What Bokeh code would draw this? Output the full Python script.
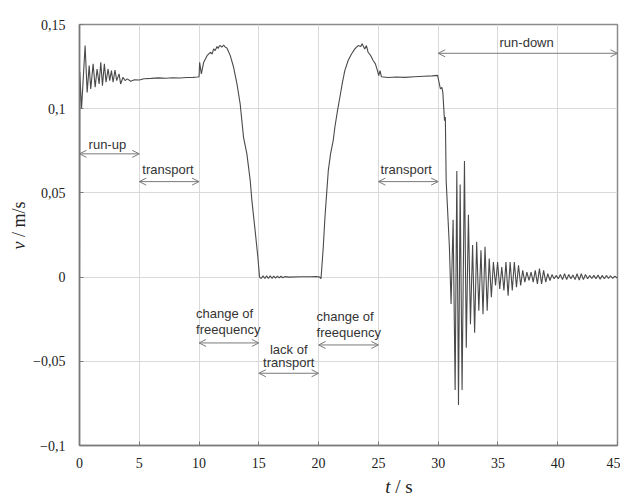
import math
from bokeh.plotting import figure
from bokeh.models import Arrow, OpenHead, Label, FixedTicker, Range1d
from bokeh.layouts import row, column
from bokeh.core.properties import value
from bokeh.embed import file_html
from bokeh.resources import INLINE

# ---- data (t in s, v in m/s) ----
t_runup = [0.0, 0.02, 0.17, 0.47, 0.64, 0.81, 0.94, 1.14, 1.31, 1.47, 1.64, 1.78, 1.92,
           2.08, 2.22, 2.39, 2.53, 2.67, 2.81, 2.97, 3.11, 3.31, 3.44, 3.64, 3.81, 4.0, 4.28]
v_runup = [0.0, 0.122, 0.100, 0.1375, 0.1097, 0.1256, 0.1117, 0.1266, 0.1127, 0.1236, 0.1147,
           0.1276, 0.1137, 0.1266, 0.1157, 0.1236, 0.1167, 0.1226, 0.1157, 0.1230, 0.1167,
           0.1207, 0.1147, 0.1187, 0.1167, 0.1177, 0.1163]

t_transport1 = [4.6, 5.0, 5.4, 6.0, 6.6, 7.2, 7.8, 8.4, 9.0, 9.5, 9.85]
v_transport1 = [0.1172, 0.1170, 0.1178, 0.1180, 0.1183, 0.1181, 0.1184, 0.1182, 0.1185,
                0.1186, 0.1188]

t_hump1 = [10.0, 10.05, 10.19, 10.39, 10.67, 10.94, 11.1, 11.22, 11.35, 11.5, 11.6, 11.7,
           11.78, 11.9, 12.06, 12.2, 12.33, 12.61, 12.89, 13.17, 13.44, 13.58, 13.72, 14.0,
           14.28, 14.42, 14.69, 14.92, 15.06]
v_hump1 = [0.1190, 0.1276, 0.1207, 0.1276, 0.1315, 0.1335, 0.1325, 0.1355, 0.1345, 0.1369,
           0.1358, 0.1372, 0.1375, 0.1366, 0.1378, 0.1365, 0.1361, 0.1315, 0.1246, 0.1147,
           0.1028, 0.0929, 0.0830, 0.0732, 0.0573, 0.0454, 0.0276, 0.0118, 0.0]

t_idle = [15.2, 15.35, 15.5, 15.65, 15.8, 15.95, 16.1, 16.25, 16.4, 16.55, 16.7, 16.85,
          17.0, 17.2, 17.5, 18.5, 19.3, 19.8, 20.1]
v_idle = [-0.0008, 0.0007, -0.0008, 0.0007, -0.0008, 0.0007, -0.0007, 0.0006, -0.0006,
          0.0006, -0.0005, 0.0005, -0.0004, 0.0003, 0.0, 0.0002, 0.0002, 0.0004, 0.0]

t_hump2 = [20.2, 20.39, 20.53, 20.67, 20.81, 21.0, 21.22, 21.36, 21.58, 21.78, 21.97, 22.19,
           22.47, 22.75, 23.03, 23.31, 23.53, 23.64, 23.86, 24.0, 24.14, 24.36, 24.56, 24.75,
           24.92, 25.03, 25.14, 25.25]
v_hump2 = [-0.001, 0.0177, 0.0355, 0.0494, 0.0632, 0.0732, 0.0811, 0.0890, 0.0989, 0.1068,
           0.1147, 0.1226, 0.1286, 0.1325, 0.1355, 0.1375, 0.1369, 0.1385, 0.1355, 0.1375,
           0.1335, 0.1315, 0.1286, 0.1266, 0.1226, 0.1196, 0.1226, 0.1190]

t_transport2 = [25.8, 26.5, 27.2, 28.0, 28.8, 29.5, 29.95]
v_transport2 = [0.1185, 0.1188, 0.1186, 0.1190, 0.1193, 0.1195, 0.1198]

t_rundown = [30.19, 30.31, 30.39, 30.53, 30.6, 30.67, 30.94, 31.08, 31.25, 31.42, 31.56,
             31.70, 31.84, 32.00, 32.20, 32.35, 32.53, 32.70, 32.88, 33.05, 33.22, 33.40,
             33.58, 33.75, 33.92, 34.10, 34.27, 34.45, 34.62, 34.80, 34.97, 35.15, 35.32,
             35.50, 35.67, 35.85, 36.02, 36.20, 36.37, 36.55, 36.72, 36.90, 37.07, 37.25,
             37.42, 37.60, 37.77, 37.95, 38.12, 38.30, 38.47, 38.65, 38.82, 39.00, 39.17,
             39.35, 39.52, 39.70, 39.87, 40.05, 40.22, 40.40, 40.57, 40.75, 40.92, 41.10,
             41.27, 41.45, 41.62, 41.80, 41.97, 42.15, 42.32, 42.50, 42.67, 42.85, 43.02,
             43.20, 43.37, 43.55, 43.72, 43.90, 44.07, 44.25, 44.42, 44.60, 44.77, 44.95, 45.0]
v_rundown = [0.1117, 0.1127, 0.1097, 0.0929, 0.0950, 0.0573, 0.0177, -0.016, 0.034, -0.067,
             0.063, -0.076, 0.055, -0.067, 0.069, -0.042, 0.037, -0.028, 0.019, -0.033,
             0.021, -0.020, 0.016, -0.022, 0.018, -0.020, 0.011, -0.012, 0.009, -0.005,
             0.009, -0.007, 0.006, -0.008, 0.009, -0.011, 0.009, -0.008, 0.009, -0.006,
             0.007, -0.005, 0.004, -0.003, 0.003, -0.002, 0.003, -0.003, 0.004, -0.004,
             0.005, -0.004, 0.004, -0.003, 0.002, -0.002, 0.0015, -0.001, 0.001, -0.001,
             0.0015, -0.0015, 0.002, -0.0015, 0.0015, -0.001, 0.0012, -0.0015, 0.002,
             -0.0018, 0.002, -0.0015, 0.0015, -0.001, 0.001, -0.0008, 0.001, -0.001, 0.0012,
             -0.0012, 0.001, -0.001, 0.001, -0.0008, 0.0008, -0.0008, 0.0006, -0.0004, 0.0]

x_ticks = [0, 5, 10, 15, 20, 25, 30, 35, 40, 45]
y_ticks = [-0.1, -0.05, 0, 0.05, 0.1, 0.15]
y_tick_labels = ["\u22120,1", "\u22120,05", "0", "0,05", "0,1", "0,15"]

t_all = t_runup + t_transport1 + t_hump1 + t_idle + t_hump2 + t_transport2 + t_rundown
v_all = v_runup + v_transport1 + v_hump1 + v_idle + v_hump2 + v_transport2 + v_rundown

YLAB_W = 30
MAIN_W = 620 - YLAB_W
MAIN_H = 475
XLAB_H = 497 - MAIN_H

# ---- main figure ----
p = figure(width=MAIN_W, height=MAIN_H, output_backend="svg", toolbar_location=None,
           x_range=Range1d(0, 45), y_range=Range1d(-0.1, 0.15),
           min_border_left=77 - YLAB_W, min_border_right=3, min_border_top=24,
           min_border_bottom=30)
p.background_fill_color = "white"
p.border_fill_color = "white"
p.outline_line_color = "#8c8c8c"
p.outline_line_width = 1.5

for ax in (p.xaxis[0], p.yaxis[0]):
    ax.axis_line_color = "#7a7a7a"
    ax.axis_line_width = 1.5
    ax.major_tick_in = 4
    ax.major_tick_out = 0
    ax.minor_tick_line_color = None
    ax.major_tick_line_color = "#7a7a7a"
    ax.major_label_text_font = "Liberation Serif"
    ax.major_label_text_font_size = "14px"
    ax.major_label_text_color = "#222222"

p.xaxis.ticker = FixedTicker(ticks=x_ticks)
p.yaxis.ticker = FixedTicker(ticks=y_ticks)
p.yaxis.major_label_overrides = {v: s for v, s in zip(y_ticks, y_tick_labels)}
p.xaxis.major_label_standoff = 12
p.yaxis.major_label_standoff = 14

p.grid.grid_line_color = "#d9d9d9"
p.grid.grid_line_width = 1

p.line(t_all, v_all, line_color="#4a4a4a", line_width=1.1)

# ---- annotations ----
arrow_color = "#7a7a7a"
def darrow(x0, x1, y):
    p.add_layout(Arrow(x_start=x0, y_start=y, x_end=x1, y_end=y,
                       start=OpenHead(size=7, line_color=arrow_color, line_width=1),
                       end=OpenHead(size=7, line_color=arrow_color, line_width=1),
                       line_color=arrow_color, line_width=1))

def lab(x, y, text, align="center"):
    p.add_layout(Label(x=x, y=y, text=text, text_align=align, text_baseline="middle",
                       text_font="Liberation Sans", text_font_size="13px",
                       text_color="#333333"))

darrow(0, 5, 0.0732)
lab(2.33, 0.0787, "run-up")
darrow(5, 10, 0.0567)
lab(7.4, 0.0638, "transport")
darrow(10, 15, -0.0391)
lab(9.75, -0.0217, "change of", align="left")
lab(9.75, -0.0312, "freequency", align="left")
darrow(15, 20, -0.0571)
lab(17.5, -0.0431, "lack of")
lab(17.5, -0.0510, "transport")
darrow(20, 25, -0.0403)
lab(19.83, -0.0233, "change of", align="left")
lab(19.83, -0.0331, "freequency", align="left")
darrow(25, 30, 0.0567)
lab(27.33, 0.0638, "transport")
darrow(30, 45, 0.1329)
lab(37.4, 0.1394, "run-down")

# ---- axis titles in thin side figures (italic symbol + upright unit) ----
def helper(w, h):
    f = figure(width=w, height=h, output_backend="svg", toolbar_location=None,
               x_range=Range1d(0, w), y_range=Range1d(h, 0),
               x_axis_type=None, y_axis_type=None,
               min_border_left=0, min_border_right=0, min_border_top=0, min_border_bottom=0)
    f.outline_line_color = None
    f.grid.visible = False
    f.background_fill_color = "white"
    f.border_fill_color = "white"
    return f

ylab = helper(YLAB_W, 497)
ylab.text(x=[18], y=[241], text=["v"], angle=math.pi / 2, text_align="right",
          text_baseline="middle", text_font=value("Liberation Serif"),
          text_font_size="18px", text_font_style="italic", text_color="#222222")
ylab.text(x=[18], y=[241], text=["\u00a0/\u00a0m/s"], angle=math.pi / 2, text_align="left",
          text_baseline="middle", text_font=value("Liberation Serif"),
          text_font_size="18px", text_color="#222222")

xlab = helper(MAIN_W, XLAB_H)
xlab.text(x=[371 - YLAB_W], y=[11], text=["t"], text_align="right",
          text_baseline="middle", text_font=value("Liberation Serif"),
          text_font_size="19px", text_font_style="italic", text_color="#222222")
xlab.text(x=[371 - YLAB_W], y=[11], text=["\u00a0/\u00a0s"], text_align="left",
          text_baseline="middle", text_font=value("Liberation Serif"),
          text_font_size="19px", text_color="#222222")

layout = row(ylab, column(p, xlab))
open("out.html", "w").write(file_html(layout, INLINE))
